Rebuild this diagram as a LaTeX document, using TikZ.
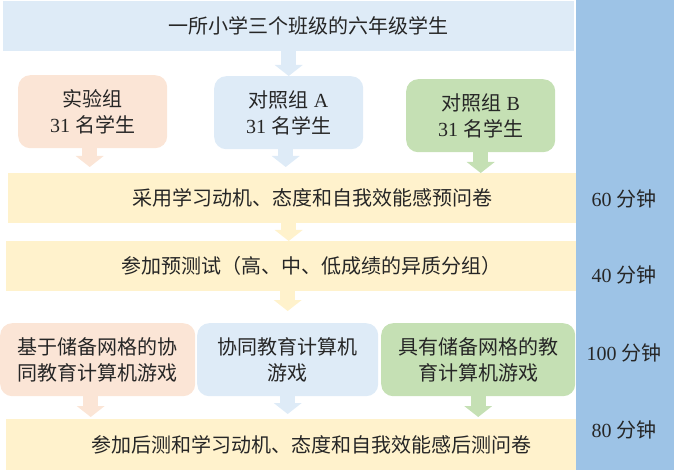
\documentclass[tikz,border=0pt]{standalone}
\usepackage{fontspec}
\setmainfont{Liberation Serif}
\newfontfamily\cjk{Noto Sans CJK SC}
\usepackage{tikz}
\usetikzlibrary{arrows.meta}
\usetikzlibrary{positioning}
\newcommand{\zh}[1]{{\cjk #1}}
\definecolor{mlblue}{HTML}{DEEBF7}
\definecolor{mpeach}{HTML}{FBE5D6}
\definecolor{mgreen}{HTML}{C5E0B4}
\definecolor{myellow}{HTML}{FFF2CC}
\definecolor{mcol}{HTML}{9DC3E6}
\tikzset{box/.style = {anchor = north west, inner sep = 0, align = center},
  bar/.style = {box, minimum width = 570, minimum height = 50,
    execute at begin node = {\hspace*{40pt}}},
  grp/.style = {box, rounded corners = 12, minimum width = 149, minimum height = 73},
  blk/.style = {line width = 15pt, -{Triangle[width = 28pt, length = 11pt, line width = 0pt]}}}

\begin{document}
\begin{tikzpicture}[x = 1pt, y = -1pt,
    every node/.style = {text = black!85, font = \fontsize{20}{26}\selectfont}]
    \useasboundingbox (0, 0) rectangle (674, 470);
    \fill [mcol] (576, 0) rectangle (674, 470);

    \node [bar, fill = mlblue, minimum width = 571] (pop) at (3, 1)
      {\zh{一所小学三个班级的六年级学生}};

    \node [grp, fill = mpeach] (g1) at (18, 75) {\zh{实验组}\\31 \zh{名学生}};
    \node [grp, fill = mlblue] (gA) at (214, 76) {\zh{对照组} A\\31 \zh{名学生}};
    \node [grp, fill = mgreen] (gB) at (406, 79) {\zh{对照组} B\\31 \zh{名学生}};

    \node [bar, fill = myellow, minimum width = 568] (bar1) at (8, 173)
      {\zh{采用学习动机、态度和自我效能感预问卷}};
    \node [bar, fill = myellow] (bar2) at (6, 241)
      {\zh{参加预测试（高、中、低成绩的异质分组）}};

    \node [grp, fill = mpeach, minimum width = 195] (t1) at (0, 323)
      {\zh{基于储备网格的协}\\\zh{同教育计算机游戏}};
    \node [grp, fill = mlblue, minimum width = 181] (t2) at (197, 323)
      {\zh{协同教育计算机}\\\zh{游戏}};
    \node [grp, fill = mgreen, minimum width = 194] (t3) at (381, 323)
      {\zh{具有储备网格的教}\\\zh{育计算机游戏}};

    \node [bar, fill = myellow, minimum height = 51] (bar3) at (6, 419)
      {\zh{参加后测和学习动机、态度和自我效能感后测问卷}};

    % time column
    \node (m1) at (624, 199) {60 \zh{分钟}};
    \node (m2) at (624, 275) {40 \zh{分钟}};
    \node (m3) at (624, 353) {100 \zh{分钟}};
    \node (m4) at (624, 430) {80 \zh{分钟}};

    \draw [blk, mlblue] (pop.south) -- (pop.south |- gA.north);
    \draw [blk, mpeach, shorten > = 6pt] ([xshift = -3pt]g1.south) -- ([xshift = -3pt]g1.south |- bar1.north);
    \draw [blk, mlblue, shorten > = 6pt] ([xshift = -3pt]gA.south) -- ([xshift = -3pt]gA.south |- bar1.north);
    \draw [blk, mgreen] (gB.south) -- (gB.south |- bar1.north);
    \draw [blk, myellow] (gA.south |- bar1.south) -- (gA.south |- bar2.north);
    \draw [blk, myellow, shorten > = 12pt] (t2.north |- bar2.south) -- (t2.north);
    \draw [blk, mpeach, shorten > = 2pt] ([xshift = -7pt]t1.south) -- ([xshift = -7pt]t1.south |- bar3.north);
    \draw [blk, mlblue, shorten > = 5pt] (t2.south) -- (t2.south |- bar3.north);
    \draw [blk, mgreen, shorten > = 2pt] (t3.south) -- (t3.south |- bar3.north);
  \end{tikzpicture}
\end{document}
